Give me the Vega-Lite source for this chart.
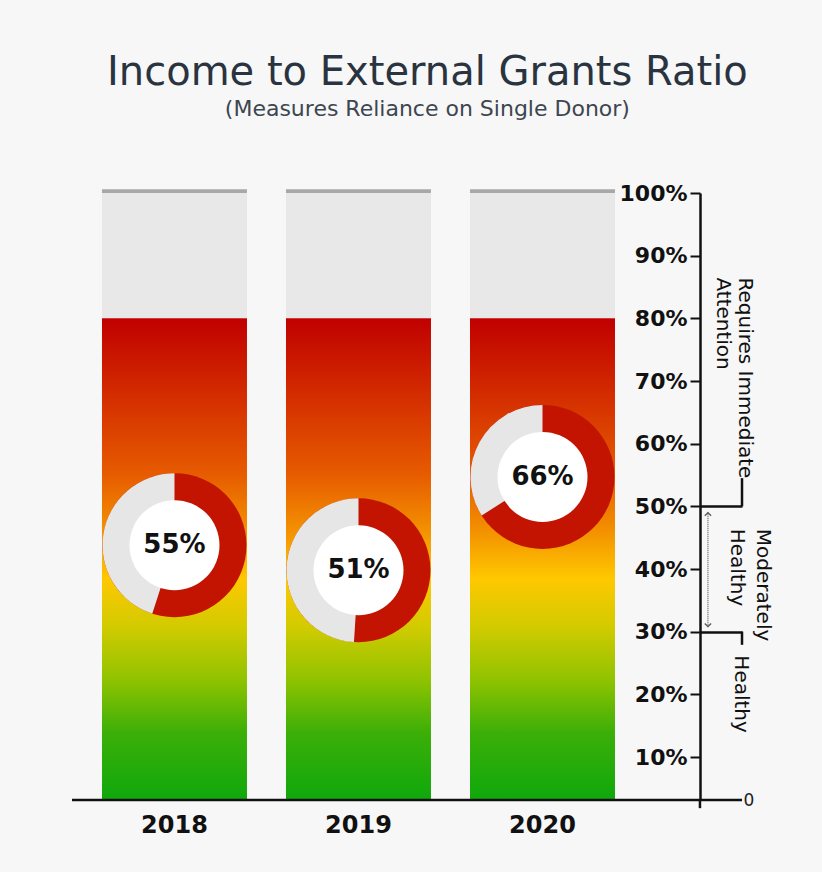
{
  "$schema": "https://vega.github.io/schema/vega-lite/v6.json",
  "width": 670,
  "height": 607,
  "autosize": {"type": "none"},
  "padding": {"left": 72, "top": 193, "right": 80, "bottom": 72},
  "background": "#f7f7f7",
  "config": {"view": {"stroke": null}},
  "title": {
    "text": "Income to External Grants Ratio",
    "subtitle": "(Measures Reliance on Single Donor)",
    "font": "DejaVu Sans", "fontSize": 40, "fontWeight": "normal", "color": "#2a3440",
    "subtitleFont": "DejaVu Sans", "subtitleFontSize": 22, "subtitleColor": "#3d4650",
    "subtitlePadding": 6, "offset": 62, "anchor": "middle", "frame": "bounds", "dx": 6
  },
  "data": {"values": [
    {"year": "2018", "value": 55, "label": "55%", "pos": 43.8},
    {"year": "2019", "value": 51, "label": "51%", "pos": 39.8},
    {"year": "2020", "value": 66, "label": "66%", "pos": 54.7}
  ]},
  "resolve": {"axis": {"y": "independent"}},
  "layer": [
    {
      "mark": {"type": "bar", "color": "#e8e8e8"},
      "encoding": {
        "x": {"field": "year", "type": "nominal", "scale": {"paddingInner": 0.212, "paddingOuter": 0.4266, "align": 0.191},
              "axis": {"orient": "bottom", "domain": false, "ticks": false, "labelFont": "DejaVu Sans", "labelFontWeight": "bold", "labelFontSize": 24, "labelColor": "#111111", "labelPadding": 13, "labelAngle": 0, "title": null, "grid": false}},
        "y": {"datum": 80, "type": "quantitative", "scale": {"type": "linear", "domain": [0, 10, 100], "range": [607, 564, 0], "nice": false, "zero": false},
              "axis": {"orient": "left", "offset": -628, "values": [10, 20, 30, 40, 50, 60, 70, 80, 90, 100], "labelExpr": "datum.value + '%'", "labelFont": "DejaVu Sans", "labelFontWeight": "bold", "labelFontSize": 22, "labelColor": "#111111", "labelPadding": 3, "labelAlign": "right", "labelBaseline": "middle", "tickSize": 10, "tickWidth": 2, "tickColor": "#111111", "domainColor": "#111111", "domainWidth": 2.5, "grid": false, "title": null}},
        "y2": {"datum": 100}
      }
    },
    {
      "mark": {"type": "bar", "color": {"gradient": "linear", "x1": 0, "y1": 1, "x2": 0, "y2": 0, "stops": [
        {"offset": 0, "color": "#0fa80c"},
        {"offset": 0.14, "color": "#3caf08"},
        {"offset": 0.25, "color": "#90c300"},
        {"offset": 0.36, "color": "#d2cb00"},
        {"offset": 0.46, "color": "#ffc800"},
        {"offset": 0.56, "color": "#f39000"},
        {"offset": 0.68, "color": "#e65a00"},
        {"offset": 0.8, "color": "#d83800"},
        {"offset": 1, "color": "#c00000"}
      ]}},
      "encoding": {
        "x": {"field": "year", "type": "nominal", "scale": {"paddingInner": 0.212, "paddingOuter": 0.4266, "align": 0.191}},
        "y": {"datum": 0, "type": "quantitative", "scale": {"type": "linear", "domain": [0, 10, 100], "range": [607, 564, 0], "nice": false, "zero": false},
              "axis": {"orient": "right", "offset": -42, "values": [30, 50], "labels": false, "domain": false, "grid": false, "tickSize": 42, "tickWidth": 2.5, "tickColor": "#111111", "title": null}},
        "y2": {"datum": 80}
      }
    },
    {
      "mark": {"type": "bar", "color": "#a8a8a8"},
      "encoding": {
        "x": {"field": "year", "type": "nominal", "scale": {"paddingInner": 0.212, "paddingOuter": 0.4266, "align": 0.191}},
        "y": {"datum": 100, "type": "quantitative", "scale": {"type": "linear", "domain": [0, 10, 100], "range": [607, 564, 0], "nice": false, "zero": false},
              "axis": {"orient": "right", "offset": 0, "values": [0], "labelExpr": "'0'", "ticks": false, "domain": false, "grid": false, "labelPadding": 1, "labelFont": "DejaVu Sans", "labelFontSize": 17, "labelColor": "#222222", "labelAlign": "left", "labelBaseline": "middle", "title": null}},
        "y2": {"datum": 100.6}
      }
    },
    {
      "data": {"values": [{"zone": "baseline"}]},
      "mark": {"type": "rule", "color": "#111111", "strokeWidth": 2.5},
      "encoding": {
        "y": {"datum": 0, "type": "quantitative", "scale": {"type": "linear", "domain": [0, 10, 100], "range": [607, 564, 0], "nice": false, "zero": false},
              "axis": {"orient": "right", "offset": 2, "values": [86.6], "labelExpr": "['Requires Immediate', 'Attention']", "ticks": false, "domain": false, "grid": false, "labelPadding": 0, "labelAngle": 90, "labelAlign": "left", "labelBaseline": "middle", "labelFont": "DejaVu Sans", "labelFontSize": 20, "labelLineHeight": 22, "labelColor": "#111111", "labelOverlap": false, "labelLimit": 0, "title": null}}
      }
    },
    {
      "data": {"values": [{"part": "axis extension"}]},
      "mark": {"type": "rule", "color": "#111111", "strokeWidth": 2.5},
      "encoding": {
        "x": {"datum": "2020", "type": "nominal", "bandPosition": 1.586, "scale": {"paddingInner": 0.212, "paddingOuter": 0.4266, "align": 0.191}},
        "y": {"datum": 0, "type": "quantitative", "scale": {"type": "linear", "domain": [0, 10, 100], "range": [607, 564, 0], "nice": false, "zero": false}, "axis": null},
        "y2": {"datum": -1.9}
      }
    },
    {
      "data": {"values": [{"zone": "Requires Immediate Attention"}]},
      "mark": {"type": "rule", "color": "#111111", "strokeWidth": 2.5},
      "encoding": {
        "x": {"datum": "2020", "type": "nominal", "bandPosition": 1.876, "scale": {"paddingInner": 0.212, "paddingOuter": 0.4266, "align": 0.191}},
        "y": {"datum": 50, "type": "quantitative", "scale": {"type": "linear", "domain": [0, 10, 100], "range": [607, 564, 0], "nice": false, "zero": false}, "axis": null},
        "y2": {"datum": 54.5}
      }
    },
    {
      "data": {"values": [{"zone": "Healthy"}]},
      "mark": {"type": "rule", "color": "#111111", "strokeWidth": 2.5},
      "encoding": {
        "x": {"datum": "2020", "type": "nominal", "bandPosition": 1.876, "scale": {"paddingInner": 0.212, "paddingOuter": 0.4266, "align": 0.191}},
        "y": {"datum": 30, "type": "quantitative", "scale": {"type": "linear", "domain": [0, 10, 100], "range": [607, 564, 0], "nice": false, "zero": false}, "axis": null},
        "y2": {"datum": 27.9}
      }
    },
    {
      "data": {"values": [{"zone": "Moderately Healthy"}]},
      "mark": {"type": "rule", "color": "#777777", "strokeWidth": 1.5, "strokeDash": [1, 1]},
      "encoding": {
        "x": {"datum": "2020", "type": "nominal", "bandPosition": 1.641, "scale": {"paddingInner": 0.212, "paddingOuter": 0.4266, "align": 0.191}},
        "y": {"datum": 30.8, "type": "quantitative", "scale": {"type": "linear", "domain": [0, 10, 100], "range": [607, 564, 0], "nice": false, "zero": false}, "axis": null},
        "y2": {"datum": 49.0}
      }
    },
    {
      "data": {"values": [{"end": "top"}]},
      "mark": {"type": "point", "shape": "M-1,1L0,0L1,1", "filled": false, "stroke": "#555555", "strokeWidth": 1.3, "size": 40, "opacity": 1},
      "encoding": {
        "x": {"datum": "2020", "type": "nominal", "bandPosition": 1.641, "scale": {"paddingInner": 0.212, "paddingOuter": 0.4266, "align": 0.191}},
        "y": {"datum": 49.0, "type": "quantitative", "scale": {"type": "linear", "domain": [0, 10, 100], "range": [607, 564, 0], "nice": false, "zero": false}, "axis": null}
      }
    },
    {
      "data": {"values": [{"end": "bottom"}]},
      "mark": {"type": "point", "shape": "M-1,-1L0,0L1,-1", "filled": false, "stroke": "#555555", "strokeWidth": 1.3, "size": 40, "opacity": 1},
      "encoding": {
        "x": {"datum": "2020", "type": "nominal", "bandPosition": 1.641, "scale": {"paddingInner": 0.212, "paddingOuter": 0.4266, "align": 0.191}},
        "y": {"datum": 30.8, "type": "quantitative", "scale": {"type": "linear", "domain": [0, 10, 100], "range": [607, 564, 0], "nice": false, "zero": false}, "axis": null}
      }
    },
    {
      "mark": {"type": "circle", "color": "#c21400", "size": 20736, "opacity": 1},
      "encoding": {
        "x": {"field": "year", "type": "nominal", "scale": {"paddingInner": 0.212, "paddingOuter": 0.4266, "align": 0.191}},
        "y": {"field": "pos", "type": "quantitative", "scale": {"type": "linear", "domain": [0, 10, 100], "range": [607, 564, 0], "nice": false, "zero": false},
              "axis": {"orient": "right", "offset": 20, "values": [46.5], "labelExpr": "['Moderately', 'Healthy']", "ticks": false, "domain": false, "grid": false, "labelPadding": 0, "labelAngle": 90, "labelAlign": "left", "labelBaseline": "middle", "labelFont": "DejaVu Sans", "labelFontSize": 20, "labelLineHeight": 26, "labelColor": "#111111", "labelOverlap": false, "labelLimit": 0, "title": null}}
      }
    },
    {
      "mark": {"type": "arc", "color": "#e6e6e6", "outerRadius": 72, "innerRadius": 40},
      "encoding": {
        "x": {"field": "year", "type": "nominal", "scale": {"paddingInner": 0.212, "paddingOuter": 0.4266, "align": 0.191}},
        "y": {"field": "pos", "type": "quantitative", "scale": {"type": "linear", "domain": [0, 10, 100], "range": [607, 564, 0], "nice": false, "zero": false}, "axis": null},
        "theta": {"field": "value", "type": "quantitative", "stack": null, "scale": {"domain": [0, 100]}},
        "theta2": {"datum": 100}
      }
    },
    {
      "mark": {"type": "circle", "color": "#ffffff", "size": 8100, "opacity": 1},
      "encoding": {
        "x": {"field": "year", "type": "nominal", "scale": {"paddingInner": 0.212, "paddingOuter": 0.4266, "align": 0.191}},
        "y": {"field": "pos", "type": "quantitative", "scale": {"type": "linear", "domain": [0, 10, 100], "range": [607, 564, 0], "nice": false, "zero": false},
              "axis": {"orient": "right", "offset": -2, "values": [26.3], "labelExpr": "'Healthy'", "ticks": false, "domain": false, "grid": false, "labelPadding": 0, "labelAngle": 90, "labelAlign": "left", "labelBaseline": "middle", "labelFont": "DejaVu Sans", "labelFontSize": 20, "labelColor": "#111111", "labelOverlap": false, "labelLimit": 0, "title": null}}
      }
    },
    {
      "mark": {"type": "text", "font": "DejaVu Sans", "fontWeight": "bold", "fontSize": 26, "color": "#111111"},
      "encoding": {
        "x": {"field": "year", "type": "nominal", "scale": {"paddingInner": 0.212, "paddingOuter": 0.4266, "align": 0.191}},
        "y": {"field": "pos", "type": "quantitative", "scale": {"type": "linear", "domain": [0, 10, 100], "range": [607, 564, 0], "nice": false, "zero": false}, "axis": null},
        "text": {"field": "label"}
      }
    }
  ]
}
